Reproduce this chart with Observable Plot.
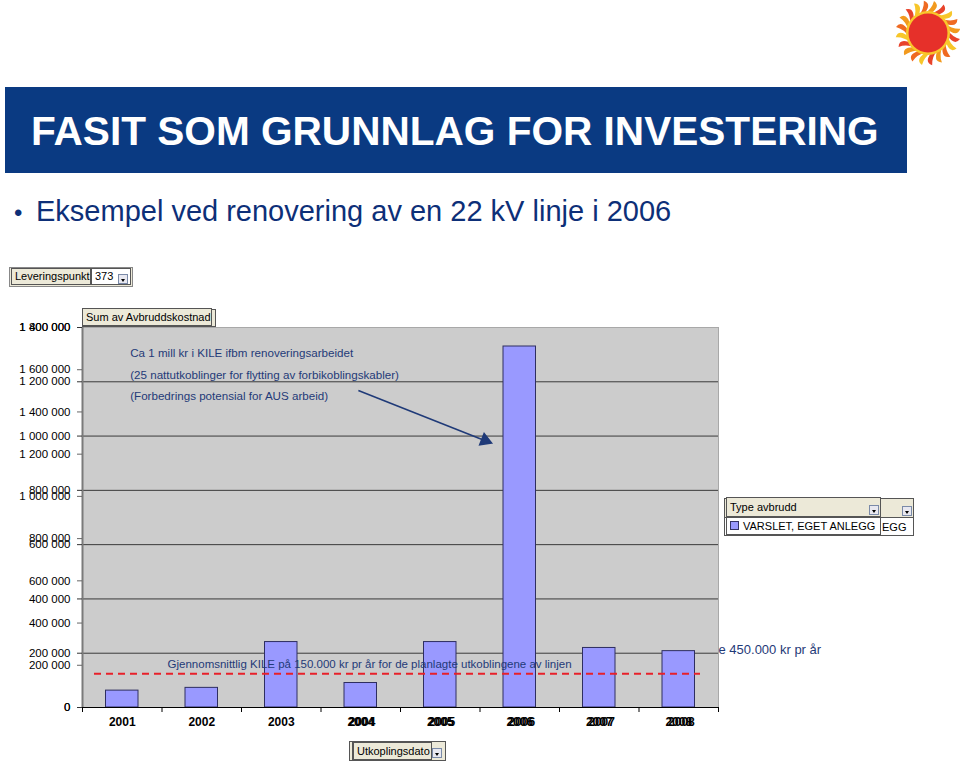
<!DOCTYPE html>
<html>
<head>
<meta charset="utf-8">
<script src="https://cdn.jsdelivr.net/npm/d3@7"></script>
<script src="https://cdn.jsdelivr.net/npm/@observablehq/plot@0.6"></script>
<style>
  html, body { margin: 0; padding: 0; background: #fff; }
  body { width: 960px; height: 762px; position: relative; overflow: hidden; font-family: Arial, "Liberation Sans", sans-serif; }
  .abs { position: absolute; }
  #header { left: 5px; top: 87px; width: 902px; height: 86px; background: #0a3a82; }
  #title { left: 31px; top: 108px; color: #fff; font-weight: bold; font-size: 40.6px; white-space: nowrap; }
  #dot { left: 14px; top: 199px; color: #0d2f78; font-size: 24px; }
  #bullet { left: 36px; top: 195px; color: #0d2f78; font-size: 29px; white-space: nowrap; }
  .pbox { position: absolute; font-size: 11px; color: #000; box-sizing: border-box; white-space: nowrap; }
  .beige { background: #ece9d8; border: 1px solid #555; }
  .white { background: #fff; border: 1px solid #555; }
  .btn { position: absolute; width: 10px; height: 10px; background: #e8e8f0; border: 1px solid #7a8aa8; box-sizing: border-box; }
  .btn::after { content: ""; position: absolute; left: 2px; top: 4px; border-left: 2px solid transparent; border-right: 2px solid transparent; border-top: 3px solid #000; }
  #chart { left: 0; top: 300px; }
</style>
</head>
<body>
<div id="sun" class="abs" style="left:890px;top:0px;"></div>
<div id="header" class="abs"></div>
<div id="title" class="abs">FASIT SOM GRUNNLAG FOR INVESTERING</div>
<div id="dot" class="abs">•</div>
<div id="bullet" class="abs">Eksempel ved renovering av en 22 kV linje i 2006</div>

<!-- Leveringspunkt field -->
<div class="pbox" style="left:9px;top:267px;width:124px;height:20px;border:1px solid #888;background:#ece9d8;"></div>
<div class="pbox beige" style="left:11px;top:268px;width:80px;height:17px;padding:1px 0 0 3px;">Leveringspunkt</div>
<div class="pbox white" style="left:91px;top:268px;width:40px;height:17px;padding:1px 0 0 3px;">373</div>
<div class="btn" style="left:118px;top:274px;"></div>

<div id="chart" class="abs"></div>

<!-- Sum av field -->
<div class="pbox beige" style="left:82px;top:309px;width:134px;height:18px;"></div>
<div class="pbox beige" style="left:82px;top:308px;width:130px;height:18px;padding:2px 0 0 3px;">Sum av Avbruddskostnad</div>

<!-- Legend field -->
<div class="pbox beige" style="left:724px;top:498px;width:190px;height:20px;"></div>
<div class="btn" style="left:902px;top:506px;"></div>
<div class="pbox white" style="left:724px;top:517px;width:190px;height:19px;padding:3px 0 0 157px;font-size:11px;">EGG</div>
<div class="pbox beige" style="left:726px;top:497px;width:155px;height:20px;padding:3px 0 0 3px;">Type avbrudd</div>
<div class="btn" style="left:869px;top:505px;"></div>
<div class="pbox white" style="left:726px;top:517px;width:155px;height:18px;padding:2px 0 0 3px;font-size:11px;overflow:hidden;"><span style="display:inline-block;width:7px;height:7px;background:#9999ff;border:1px solid #333366;margin-right:4px;vertical-align:0px;"></span>VARSLET, EGET ANLEGG</div>

<!-- Utkoplingsdato field -->
<div class="pbox beige" style="left:349px;top:741px;width:97px;height:20px;"></div>
<div class="pbox beige" style="left:352px;top:742px;width:80px;height:18px;padding:2px 0 0 3px;border-left:2px solid #555;">Utkoplingsdato</div>
<div class="btn" style="left:432px;top:748px;"></div>

<script>
// ---- data ----
const years = [2001, 2002, 2003, 2004, 2005, 2006, 2007, 2008];
const ghostYears = [2004, 2005, 2006, 2007, 2008];
const kostnad = [80000, 93000, 310000, 116000, 310000, 1710000, 282000, 267000];
const yTicksA = [0, 200000, 400000, 600000, 800000, 1000000, 1200000, 1400000, 1600000, 1800000];
const yTicksB = [0, 200000, 400000, 600000, 800000, 1000000, 1200000, 1400000];
const gridB = [200000, 400000, 600000, 800000, 1000000, 1200000];
const axisMaxA = 1800000;
const axisMaxB = 1400000;
const ghostStretch = 1.0045; // the overlapping second x axis is slightly wider
const averageLine = 160000;
const noteLines = [
  "Ca 1 mill kr i KILE ifbm renoveringsarbeidet",
  "(25 nattutkoblinger for flytting av forbikoblingskabler)",
  "(Forbedrings potensial for AUS arbeid)"
];
const noteX = 2001.6;
const noteY = [1677000, 1573000, 1473000];
const arrowFrom = {x: 2004.47, y: 1502000};
const arrowTo = {x: 2006.09, y: 1260000};
const avgLabel = {x: 2002.07, y: 204000, text: "Gjennomsnittlig KILE på 150.000 kr pr år for de planlagte utkoblingene av linjen"};
const hiddenLabel = {x: 2009.0, y: 275000, text: "e 450.000 kr pr år"};

const rows = years.map((year, i) => ({year, value: kostnad[i]}));
const ratio = axisMaxA / axisMaxB;
const fmt = v => d3.format(",")(Math.round(v)).replace(/,/g, " ");
const navy = "#1f3a78";

const chart = Plot.plot({
  width: 960,
  height: 440,
  marginLeft: 82,
  marginRight: 242,
  marginTop: 27,
  marginBottom: 33,
  style: {fontFamily: "Arial, 'Liberation Sans', sans-serif", fontSize: "12px", color: "#000", background: "transparent", overflow: "visible"},
  x: {type: "linear", domain: [2001, 2009], axis: null},
  y: {domain: [0, axisMaxA], axis: null},
  marks: [
    Plot.frame({fill: "#cccccc", stroke: "#a8a8a8"}),
    Plot.ruleY(gridB, {y: d => d * ratio, stroke: "#3a3a3a", strokeWidth: 1}),
    Plot.rectY(rows, {x: "year", interval: 1, y: "value", fill: "#9999ff", stroke: "#2e2e60", strokeWidth: 1, insetLeft: 23.5, insetRight: 23.5}),
    Plot.ruleY([averageLine], {stroke: "#e8202a", strokeWidth: 2, strokeDasharray: "7,5", insetLeft: 12, insetRight: 18}),
    Plot.ruleX([2001], {stroke: "#7a7a7a", strokeWidth: 2}),
    Plot.ruleY([0], {stroke: "#000", strokeWidth: 1}),
    // y axis A (with tick marks)
    Plot.axisY(yTicksA, {tickSize: 5, tickPadding: 7, tickFormat: fmt, fontSize: 11.5, stroke: "#666"}),
    // y axis B (overlapping, gridlines)
    Plot.axisY(yTicksB.map(v => v * ratio), {tickSize: 5, tickPadding: 7, tickFormat: d => fmt(d / ratio), fontSize: 11.5, stroke: "#333"}),
    // x axis tick marks at year boundaries
    Plot.axisX([...years, 2009], {tickSize: 5, tickFormat: () => "", stroke: "#000"}),
    Plot.text(years, {x: d => d, y: 0, dx: 39.75, dy: 15, text: d => String(d), fontWeight: "bold", fontSize: 12, fill: "#000"}),
    // ghost labels of the second, slightly wider, overlapping x axis
    Plot.text(ghostYears, {x: d => 2001 + (d - 2001) * ghostStretch, y: 0, dx: 39.75 * ghostStretch, dy: 15, text: d => String(d), fontWeight: "bold", fontSize: 12, fill: "#000"}),
    // annotations
    Plot.text(noteLines, {x: () => noteX, y: (d, i) => noteY[i], text: d => d, textAnchor: "start", fontSize: 11.6, fill: navy}),
    Plot.link([0], {x1: () => arrowFrom.x, y1: () => arrowFrom.y, x2: () => arrowTo.x, y2: () => arrowTo.y, stroke: navy, strokeWidth: 1.6}),
    Plot.dot([0], {x: () => arrowTo.x, y: () => arrowTo.y, symbol: "triangle", r: 4.5, rotate: 111.6, fill: navy, stroke: navy, dx: -2, dy: -1}),
    Plot.text([avgLabel], {x: "x", y: "y", text: "text", textAnchor: "start", fontSize: 11.5, fill: navy}),
    Plot.text([hiddenLabel], {x: "x", y: "y", text: "text", textAnchor: "start", fontSize: 13, fill: navy})
  ]
});
document.getElementById("chart").appendChild(chart);

// ---- sun logo (decoration) ----
(function () {
  const ns = "http://www.w3.org/2000/svg";
  const svg = document.createElementNS(ns, "svg");
  svg.setAttribute("width", 70); svg.setAttribute("height", 70);
  const cx = 38, cy = 33;
  const cols = ["#f29a1e", "#e8432b", "#f7c62a", "#ef6a22"];
  for (let i = 0; i < 20; i++) {
    const a = i * 18;
    const p = document.createElementNS(ns, "path");
    p.setAttribute("d", `M ${cx} ${cy - 18} Q ${cx + 14} ${cy - 26} ${cx + 6} ${cy - 32} Q ${cx + 4} ${cy - 24} ${cx - 4} ${cy - 19} Z`);
    p.setAttribute("fill", cols[i % 4]);
    p.setAttribute("transform", `rotate(${a} ${cx} ${cy})`);
    svg.appendChild(p);
  }
  const ring = document.createElementNS(ns, "circle");
  ring.setAttribute("cx", cx); ring.setAttribute("cy", cy); ring.setAttribute("r", 22); ring.setAttribute("fill", "#f9c62b");
  svg.appendChild(ring);
  const c = document.createElementNS(ns, "circle");
  c.setAttribute("cx", cx); c.setAttribute("cy", cy); c.setAttribute("r", 19.5); c.setAttribute("fill", "#e6302a");
  svg.appendChild(c);
  document.getElementById("sun").appendChild(svg);
})();
</script>
</body>
</html>
